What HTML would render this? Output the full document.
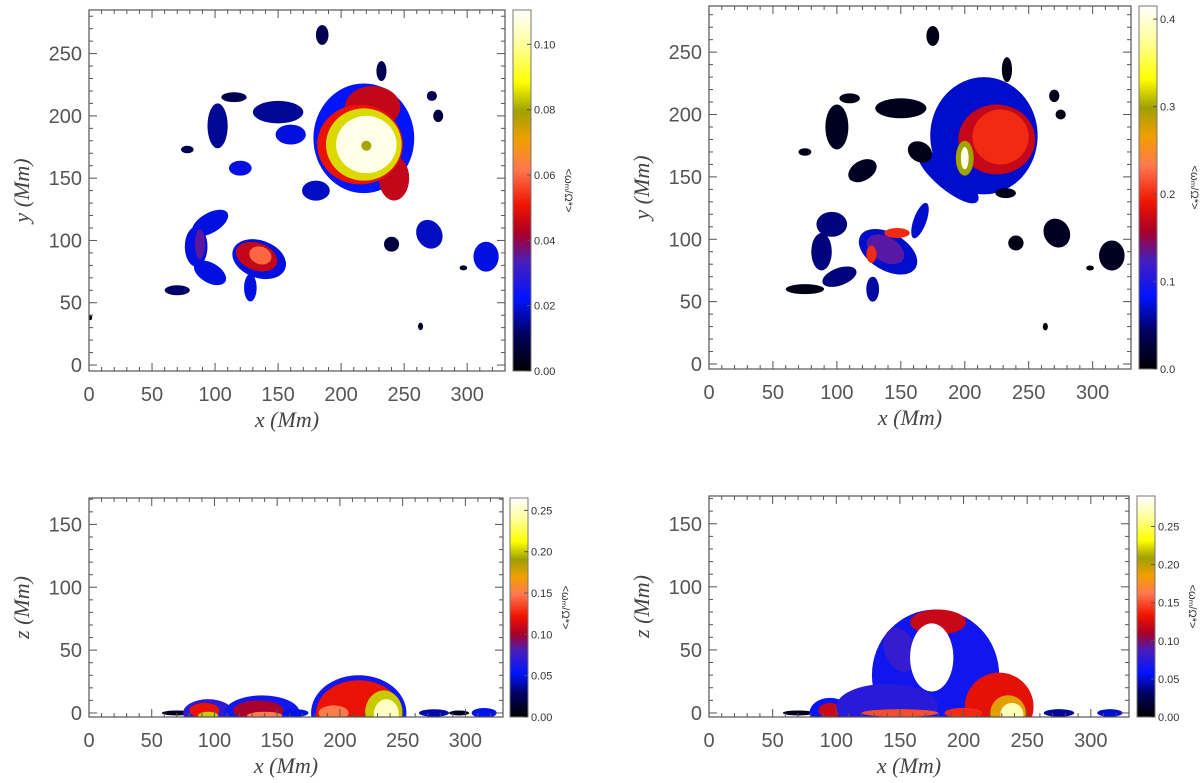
<!DOCTYPE html>
<html><head><meta charset="utf-8">
<style>
html,body{margin:0;padding:0;background:#fff;}
svg{display:block;font-family:"Liberation Sans",sans-serif;}
</style></head>
<body>
<svg id="fig" width="1200" height="783" viewBox="0 0 1200 783" xmlns="http://www.w3.org/2000/svg"></svg>
<script>
// ---- data ----
const xTicks = [0,50,100,150,200,250,300];
const yTicks = [0,50,100,150,200,250];
const zTicks = [0,50,100,150];
const cbTicks1 = [0.00,0.02,0.04,0.06,0.08,0.10];
const cbTicks2 = [0.0,0.1,0.2,0.3,0.4];
const cbTicks3 = [0.00,0.05,0.10,0.15,0.20,0.25];
const cbTicks4 = [0.00,0.05,0.10,0.15,0.20,0.25];
// blobs: [cx, cy, rx, ry, rotationDeg, value] (value null = empty/white)
const blobs1 = [
 [218,182,40,44,0,0.022],[225,207,22,17,0,0.045],[242,150,12,18,0,0.045],
 [215,177,34,32,0,0.05],[218,177,30,29,0,0.085],[220,177,24,23,0,0.108],[220,176,4,4,0,0.08],
 [96,114,16,8,-30,0.02],[85,95,9,16,0,0.02],[96,74,14,8,30,0.02],[88,97,4,12,0,0.035],
 [135,85,22,15,20,0.02],[133,87,17,11,20,0.045],[136,88,9,7,20,0.06],[128,62,5,11,0,0.02],
 [70,60,10,4,0,0.012],[102,192,8,18,0,0.015],[78,173,5,3,0,0.01],[120,158,9,6,0,0.02],
 [150,203,20,9,0,0.015],[115,215,10,4,0,0.01],[180,140,11,8,0,0.018],[160,185,12,8,0,0.02],
 [270,105,10,12,-30,0.018],[315,87,10,12,0,0.02],[240,97,6,6,0,0.008],[185,265,5,8,0,0.01],
 [277,200,4,5,0,0.008],[272,216,4,4,0,0.01],[263,31,2,3,0,0.005],[1,38,1.5,2,0,0.003],
 [297,78,3,2,0,0.005],[232,236,4,8,0,0.01]
];
const blobs2 = [
 [215,183,42,47,0,0.07],[187,150,30,10,40,0.07],[165,115,5,15,20,0.07],
 [225,180,30,28,0,0.17],[228,182,22,22,0,0.2],[200,165,7,14,0,0.3],[200,165,3,9,0,0.41],
 [140,90,25,15,30,0.07],[138,92,16,10,30,0.13],[147,105,10,4,0,0.2],[127,88,4,7,0,0.2],
 [128,60,5,10,0,0.06],
 [96,112,12,10,0,0.05],[88,90,8,15,0,0.05],[102,70,14,7,-20,0.05],[75,60,15,4,0,0.01],
 [100,190,9,18,0,0.015],[75,170,5,3,0,0.01],[120,155,12,8,-30,0.015],[150,205,20,8,0,0.012],
 [110,213,8,4,0,0.01],[165,170,10,8,30,0.01],[175,263,5,8,0,0.01],[272,105,10,12,-30,0.015],
 [315,87,10,12,0,0.015],[240,97,6,6,0,0.008],[270,215,4,5,0,0.01],[275,200,4,4,0,0.008],
 [263,30,2,3,0,0.005],[298,77,3,2,0,0.005],[233,236,4,10,0,0.01],[232,137,8,4,0,0.01]
];
const blobs3 = [
 [70,0,12,2,0,0.01],[95,0,20,11,0,0.07],[92,2,12,6,0,0.12],[95,-2,8,3,0,0.2],
 [138,0,30,14,0,0.06],[135,2,20,8,0,0.1],[140,-2,14,3,0,0.15],[165,0,10,3,0,0.05],
 [215,0,38,30,0,0.06],[215,0,34,26,0,0.12],[195,0,12,6,0,0.15],[235,0,15,18,0,0.2],[237,-1,10,12,0,0.25],
 [275,0,12,3,0,0.04],[295,0,8,2,0,0.01],[315,0,10,4,0,0.05]
];
const blobs4 = [
 [70,0,12,2,0,0.01],[95,0,16,12,0,0.06],[95,2,9,6,0,0.12],
 [178,30,50,52,0,0.065],[140,5,40,18,0,0.075],[180,72,22,10,0,0.12],[150,50,12,18,-20,0.08],
 [228,5,27,27,0,0.13],[175,44,17,27,0,null],[235,0,14,14,0,0.19],[238,-1,9,9,0,0.27],
 [150,0,30,3,0,0.15],[200,0,15,4,0,0.14],[275,0,12,3,0,0.04],[315,0,10,3,0,0.05]
];
// ---- layout ----
const panels = [
 {id:'top-left', L:89,R:505,T:10,B:371,cbL:513,cbR:531,xmin:0,xmax:330,ymin:-4.8,ymax:285,cmax:0.1105,cbt:cbTicks1,dec:2,yt:yTicks,ylab:'y',blobs:blobs1},
 {id:'top-right',L:709,R:1131,T:6,B:369,cbL:1139,cbR:1157,xmin:0,xmax:330,ymin:-4,ymax:287,cmax:0.415,cbt:cbTicks2,dec:1,yt:yTicks,ylab:'y',blobs:blobs2},
 {id:'bottom-left',L:89,R:503,T:498,B:717,cbL:510,cbR:528,xmin:0,xmax:330,ymin:-3.2,ymax:171,cmax:0.265,cbt:cbTicks3,dec:2,yt:zTicks,ylab:'z',blobs:blobs3},
 {id:'bottom-right',L:709,R:1129,T:496,B:717,cbL:1137,cbR:1155,xmin:0,xmax:330,ymin:-3.2,ymax:172,cmax:0.29,cbt:cbTicks4,dec:2,yt:zTicks,ylab:'z',blobs:blobs4}
];
const stops=[[0,[0,0,0]],[0.1,[0,0,90]],[0.2,[0,20,255]],[0.3,[70,30,190]],[0.38,[170,0,40]],[0.46,[240,20,0]],[0.56,[255,120,80]],[0.64,[240,160,0]],[0.72,[160,160,0]],[0.8,[255,255,0]],[0.9,[255,255,150]],[1,[255,255,255]]];
function cmap(t){t=Math.max(0,Math.min(1,t));for(let i=1;i<stops.length;i++){if(t<=stops[i][0]){const a=stops[i-1],b=stops[i];const f=(t-a[0])/(b[0]-a[0]);const c=a[1].map((v,k)=>Math.round(v+(b[1][k]-v)*f));return `rgb(${c})`;}}return '#fff';}
const NS='http://www.w3.org/2000/svg';
const svg=document.getElementById('fig');
function mk(tag,attrs,parent){const e=document.createElementNS(NS,tag);for(const k in attrs)e.setAttribute(k,attrs[k]);(parent||svg).appendChild(e);return e;}
panels.forEach((p,pi)=>{
 const sx=v=>p.L+(v-p.xmin)/(p.xmax-p.xmin)*(p.R-p.L);
 const sy=v=>p.B-(v-p.ymin)/(p.ymax-p.ymin)*(p.B-p.T);
 const g=mk('g',{});
 
 
 const cid='clip'+pi;
 const cp=mk('clipPath',{id:cid},g);mk('rect',{x:p.L,y:p.T,width:p.R-p.L,height:p.B-p.T},cp);
 const hm=mk('g',{'clip-path':`url(#${cid})`},g);
 
 
 p.blobs.forEach(b=>{
  const cx=sx(b[0]),cy=sy(b[1]),rx=Math.abs(sx(b[0]+b[2])-cx),ry=Math.abs(sy(b[1]+b[3])-cy);
  const e=mk('ellipse',{cx:cx,cy:cy,rx:Math.max(rx,1.5),ry:Math.max(ry,1.5),transform:`rotate(${b[4]} ${cx} ${cy})`,fill:b[5]===null?'#fff':cmap(b[5]/p.cmax)},hm);
  
  
 });
 const fr=mk('rect',{x:p.L,y:p.T,width:p.R-p.L,height:p.B-p.T,fill:'none',stroke:'#555','stroke-width':1.2},g);
 
 
 const tk=mk('g',{stroke:'#555','stroke-width':1},g);
 for(let v=0;v<=p.xmax;v+=10){const X=sx(v),maj=v%50===0,l=maj?8:4;mk('line',{x1:X,y1:p.B,x2:X,y2:p.B-l},tk);mk('line',{x1:X,y1:p.T,x2:X,y2:p.T+l},tk);}
 for(let v=0;v<=p.ymax;v+=10){const Y=sy(v),maj=v%50===0,l=maj?8:4;mk('line',{x1:p.L,y1:Y,x2:p.L+l,y2:Y},tk);mk('line',{x1:p.R,y1:Y,x2:p.R-l,y2:Y},tk);}
 xTicks.forEach(v=>{const t=mk('text',{x:sx(v),y:p.B+30,'text-anchor':'middle','font-size':20,fill:'#555'},g);t.textContent=v;
  
  });
 p.yt.forEach(v=>{const t=mk('text',{x:p.L-7,y:sy(v)+7,'text-anchor':'end','font-size':20,fill:'#555'},g);t.textContent=v;
  
  });
 const xt=mk('text',{x:(p.L+p.R)/2-10,y:p.B+56,'text-anchor':'middle','font-size':22,'font-style':'italic','font-family':'Liberation Serif, serif',fill:'#444'},g);
 xt.textContent='x (Mm)';
 
 
 const yc=(p.T+p.B)/2;
 const yt=mk('text',{x:p.L-60,y:yc,'text-anchor':'middle','font-size':22,'font-style':'italic','font-family':'Liberation Serif, serif',fill:'#444',transform:`rotate(-90 ${p.L-60} ${yc})`},g);
 yt.textContent=p.ylab+' (Mm)';
 
 
 const gid='grad'+pi;
 const lg=mk('linearGradient',{id:gid,x1:0,y1:1,x2:0,y2:0},g);
 stops.forEach(s=>mk('stop',{offset:s[0],'stop-color':`rgb(${s[1]})`},lg));
 const cb=mk('rect',{x:p.cbL,y:p.T,width:p.cbR-p.cbL,height:p.B-p.T,fill:`url(#${gid})`,stroke:'#777','stroke-width':1},g);
 
 
 const cy=v=>p.B-v/p.cmax*(p.B-p.T);
 p.cbt.forEach(v=>{const Y=cy(v);mk('line',{x1:p.cbR,y1:Y,x2:p.cbR-4,y2:Y,stroke:'#555'},g);
  const t=mk('text',{x:p.cbR+3,y:Y+4,'font-size':11,fill:'#333'},g);t.textContent=v.toFixed(p.dec);
  
  });
 const tx=p.cbR+34;
 const ct=mk('text',{x:tx,y:yc,'text-anchor':'middle','font-size':11,fill:'#333',transform:`rotate(90 ${tx} ${yc})`},g);
 ct.textContent='<ωₘ/Ω*>';
 
 
});
</script>
</body></html>
